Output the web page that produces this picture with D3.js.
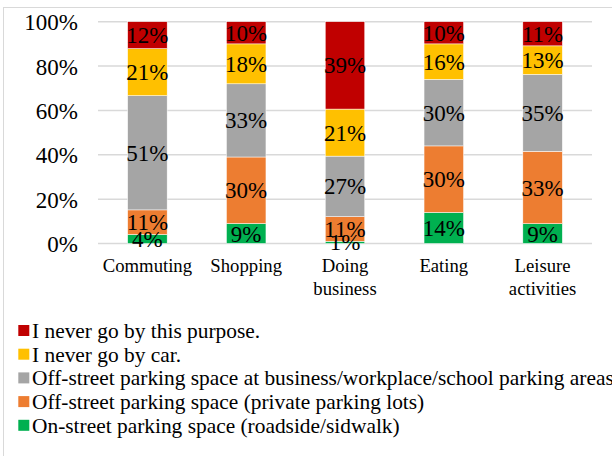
<!DOCTYPE html>
<html><head><meta charset="utf-8">
<script src="https://cdn.jsdelivr.net/npm/d3@7/dist/d3.min.js"></script>
<style>html,body{margin:0;padding:0;background:#fff;}svg{display:block;}</style>
</head><body>
<svg id="chart" width="612" height="456"></svg>
<script>
const FONT = "Liberation Serif";
const categories = ["Commuting", "Shopping", "Doing business", "Eating", "Leisure activities"];
const categoryLines = [["Commuting"], ["Shopping"], ["Doing", "business"], ["Eating"], ["Leisure", "activities"]];
const seriesNames = [
  "On-street parking space (roadside/sidwalk)",
  "Off-street parking space (private parking lots)",
  "Off-street parking space at business/workplace/school parking areas",
  "I never go by car.",
  "I never go by this purpose."
];
const seriesColors = ["#00B050", "#ED7D31", "#A5A5A5", "#FFC000", "#C00000"];
const onStreet   = [4, 9, 1, 14, 9];
const privateLot = [11, 30, 11, 30, 33];
const workplace  = [51, 33, 27, 30, 35];
const neverCar   = [21, 18, 21, 16, 13];
const neverGo    = [12, 10, 39, 10, 11];
const yTicks = [0, 0.2, 0.4, 0.6, 0.8, 1.0];

const series = [onStreet, privateLot, workplace, neverCar, neverGo];
const svg = d3.select("#chart");

// outer frame
svg.append("rect").attr("x", 3.5).attr("y", 7.5).attr("width", 700).attr("height", 600)
  .attr("fill", "none").attr("stroke", "#d9d9d9").attr("stroke-width", 1);

const x = d3.scaleBand().domain(categories).range([98, 592]).paddingInner(0.6).paddingOuter(0.3);
const y = d3.scaleLinear().domain([0, 1]).range([243.5, 21.7]);

// gridlines
svg.append("g").selectAll("line").data(yTicks).join("line")
  .attr("x1", 98).attr("x2", 592)
  .attr("y1", d => y(d)).attr("y2", d => y(d))
  .attr("stroke", "#d9d9d9").attr("stroke-width", 1.5);

// y axis labels
const yAxis = d3.axisLeft(y).tickValues(yTicks).tickFormat(d3.format(".0%")).tickSize(0).tickPadding(0);
const yg = svg.append("g").attr("transform", "translate(78,0)").call(yAxis);
yg.attr("font-family", FONT).attr("font-size", 23);
yg.select(".domain").remove();
yg.selectAll("text").attr("font-size", 23).attr("font-family", FONT).attr("fill", "#000").attr("dy", "0.35em");

// stacked data (100% normalized)
const rows = categories.map((c, i) => {
  const o = { cat: c };
  series.forEach((s, j) => o["s" + j] = s[i]);
  return o;
});
const keys = series.map((s, j) => "s" + j);
const stack = d3.stack().keys(keys).offset(d3.stackOffsetExpand);
const stacked = stack(rows);

const layers = svg.append("g").selectAll("g").data(stacked).join("g")
  .attr("fill", (d, i) => seriesColors[i]);
layers.selectAll("rect").data(d => d).join("rect")
  .attr("x", d => x(d.data.cat))
  .attr("width", x.bandwidth())
  .attr("y", d => y(d[1]))
  .attr("height", d => y(d[0]) - y(d[1]))
  .attr("stroke", "#ffffff").attr("stroke-width", 0.5);

// data labels
const labels = svg.append("g");
stacked.forEach((layer, li) => {
  layer.forEach(d => {
    labels.append("text")
      .attr("x", x(d.data.cat) + x.bandwidth() / 2)
      .attr("y", (y(d[0]) + y(d[1])) / 2)
      .attr("dy", "0.35em")
      .attr("text-anchor", "middle")
      .attr("font-family", FONT)
      .attr("font-size", 23)
      .attr("fill", "#000")
      .text(d.data[layer.key] + "%");
  });
});

// category labels
const cg = svg.append("g");
categories.forEach((c, i) => {
  const t = cg.append("text")
    .attr("x", x(c) + x.bandwidth() / 2)
    .attr("y", 272)
    .attr("text-anchor", "middle")
    .attr("font-family", FONT)
    .attr("font-size", 18.7)
    .attr("fill", "#000");
  categoryLines[i].forEach((ln, k) => {
    t.append("tspan").attr("x", x(c) + x.bandwidth() / 2).attr("dy", k === 0 ? 0 : 22.5).text(ln);
  });
});

// legend (top-to-bottom: reverse series order)
const legendOrder = [4, 3, 2, 1, 0];
const lg = svg.append("g");
legendOrder.forEach((si, k) => {
  const cy = 330.5 + k * 23.7;
  lg.append("rect").attr("x", 18.3).attr("y", cy - 5.5).attr("width", 11).attr("height", 11).attr("fill", seriesColors[si]);
  lg.append("text").attr("x", 32).attr("y", cy).attr("dy", "0.35em")
    .attr("font-family", FONT)
    .attr("font-size", 21.4).attr("fill", "#000").text(seriesNames[si]);
});
</script>
</body></html>
